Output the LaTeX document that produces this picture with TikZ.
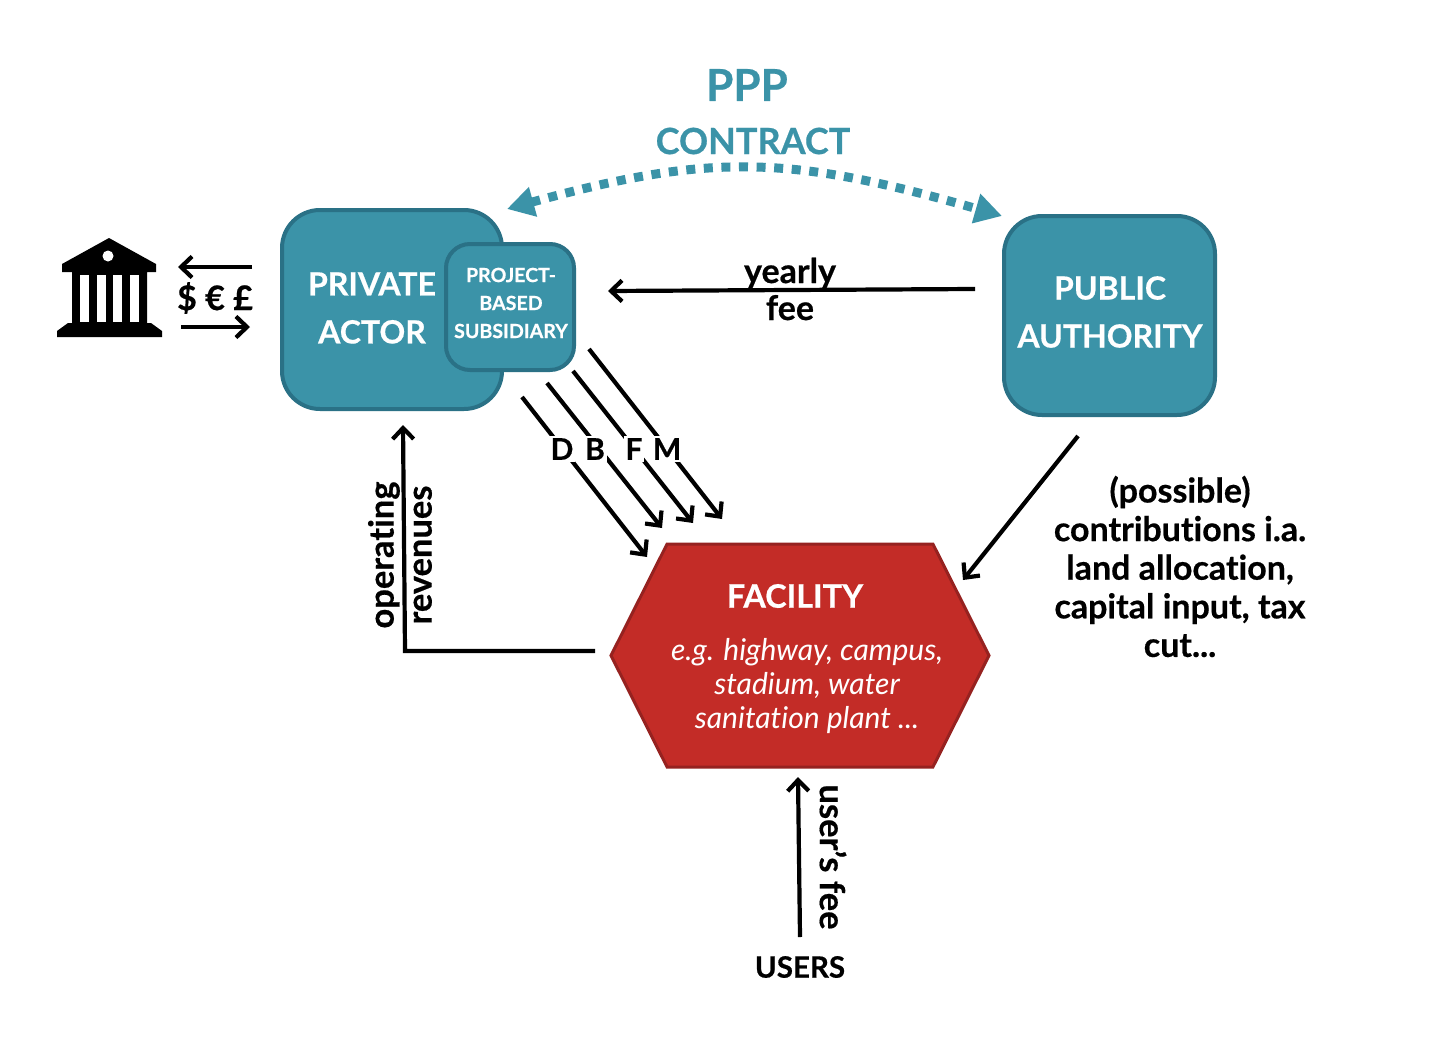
\documentclass[tikz,border=0pt]{standalone}
\usepackage{fontspec}
\setmainfont{Lato}[Ligatures=NoCommon,BoldFeatures={FakeBold=0.5}]
\usepackage{tikz}
\usetikzlibrary{arrows.meta,shapes.symbols}
\definecolor{tealfill}{HTML}{3B93A8}
\definecolor{tealedge}{HTML}{2A7186}
\definecolor{redfill}{HTML}{C32C27}
\definecolor{rededge}{HTML}{962220}

\begin{document}
\begin{tikzpicture}[x=1pt,y=-1pt]
			\tikzset{boxnode/.style={draw=tealedge,fill=tealfill,line width=4pt,rounded corners=38pt,inner sep=0pt,align=center,text=white,font=\bfseries}}
			\tikzset{flowarrow/.style={line width=4.2pt,-{Straight Barb[length=11pt,width=21pt,line width=4.2pt]}}}
			\tikzset{labelnode/.style={inner sep=0pt,align=center,font=\bfseries}}
			\tikzset{tealtext/.style={labelnode,text=tealfill}}
			\tikzset{stagenode/.style={labelnode,fill=white,inner xsep=2pt,inner ysep=2pt,font=\bfseries\fontsize{30}{30}\selectfont}}
			\useasboundingbox (0,0) rectangle (1432,1052);
			\fill[white] (0,0) rectangle (1432,1052);
			\node[tealtext,font=\bfseries\fontsize{44}{44}\selectfont] (ppp) at (747,85) {PPP};
			\node[tealtext,font=\bfseries\fontsize{36}{36}\selectfont] (contract) at (753,141) {CONTRACT};
			\node[boxnode,minimum width=220pt,minimum height=199pt] (private) at (392,309.5) {};
			\node[labelnode,text=white,font=\bfseries\fontsize{32}{48}\selectfont] (privatetext) at (372,308) {PRIVATE\\ACTOR};
			\node[boxnode,rounded corners=24pt,minimum width=128pt,minimum height=126pt] (subsidiary) at (510,307) {};
			\node[labelnode,text=white,font=\bfseries\fontsize{19.6}{28}\selectfont] (subsidiarytext) at (511,303) {PROJECT-\\BASED\\SUBSIDIARY};
			\node[boxnode,minimum width=211pt,minimum height=199pt] (public) at (1109.5,315.5) {};
			\node[labelnode,text=white,font=\bfseries\fontsize{32}{48}\selectfont] (publictext) at (1110,312) {PUBLIC\\AUTHORITY};
			\node[signal,signal to=east and west,signal from=nowhere,signal pointer angle=126.6,draw=rededge,fill=redfill,line width=3pt,minimum width=378pt,minimum height=223pt,inner sep=0pt] (facility) at (800,655.5) {};
			\node[labelnode,text=white,font=\bfseries\fontsize{32.4}{32.4}\selectfont] (facilitytext) at (795,596) {FACILITY};
			\node[inner sep=0pt,align=center,text=white,font=\itshape\fontsize{30}{34}\selectfont] (examples) at (807,686) {e.g. highway, campus,\\stadium, water\\sanitation plant ...};
			\coordinate (contractleft) at (507,209);
			\coordinate (contractright) at (1002,216);
			\draw[tealfill,line width=9pt,dash pattern=on 9pt off 8.6pt,{Triangle[length=27pt,width=29pt]}-{Triangle[length=27pt,width=29pt]}] (contractleft) .. controls (710,153) and (790,155) .. (contractright);
			\coordinate (feestart) at (975,289);
			\coordinate (feeend) at (608,291);
			\draw[flowarrow] (feestart) -- (feeend);
			\node[labelnode,font=\bfseries\fontsize{34}{37}\selectfont] (feelabel) at (790,289) {yearly\\fee};
			\fill (109,238) -- (156,264) -- (156,272) -- (147,272) -- (147,323) -- (151,323) -- (162,331) -- (162,337) -- (57,337) -- (57,331) -- (68,323) -- (72,323) -- (72,272) -- (62,272) -- (62,264) -- cycle;
			\fill[white] (108,256) circle (5.5);
			\foreach \gapx in {80,97,113,130}
				\fill[white] (\gapx,275) rectangle (\gapx+8.5,322);
			\coordinate (bankin) at (178,267);
			\coordinate (bankinstart) at (252,267);
			\coordinate (bankout) at (250,327);
			\coordinate (bankoutstart) at (181,327);
			\draw[flowarrow] (bankinstart) -- (bankin);
			\draw[flowarrow] (bankoutstart) -- (bankout);
			\node[labelnode,font=\bfseries\fontsize{34}{34}\selectfont] (money) at (215,298) {\$ € £};
			\coordinate (dstart) at (522,397);
			\coordinate (dend) at (647,557);
			\coordinate (bstart) at (547,383);
			\coordinate (bend) at (662,528);
			\coordinate (fstart) at (573,371);
			\coordinate (fend) at (693,523);
			\coordinate (mstart) at (589,349);
			\coordinate (mend) at (722,519);
			\foreach \stagename in {d,b,f,m}
				\draw[flowarrow] (\stagename start) -- (\stagename end);
			\node[stagenode] (dlabel) at (562,449) {D};
			\node[stagenode] (blabel) at (595,449) {B};
			\node[stagenode] (flabel) at (634,449) {F};
			\node[stagenode] (mlabel) at (667,449) {M};
			\coordinate (revenuestart) at (595,651);
			\coordinate (revenuecorner) at (405,651);
			\coordinate (revenueend) at (403,425);
			\draw[flowarrow,line join=miter] (revenuestart) -- (revenuecorner) -- (revenueend);
			\node[labelnode,rotate=90,font=\bfseries\fontsize{34.5}{38}\selectfont] (revenuelabel) at (400,555) {operating\\revenues};
			\coordinate (usersend) at (798,777);
			\node[labelnode,font=\bfseries\fontsize{29.5}{29.5}\selectfont] (users) at (800,967) {USERS};
			\coordinate (usersstart) at (800,937);
			\draw[flowarrow] (usersstart) -- (usersend);
			\node[labelnode,rotate=-90,font=\bfseries\fontsize{34.5}{34.5}\selectfont] (userfee) at (833,857) {user's fee};
			\coordinate (publicstart) at (1078,436);
			\coordinate (publicend) at (963,580);
			\draw[flowarrow] (publicstart) -- (publicend);
			\node[labelnode,font=\bfseries\fontsize{34}{38.6}\selectfont] (contributions) at (1180,566.5) {(possible)\\contributions i.a.\\land allocation,\\capital input, tax\\cut...};
		\end{tikzpicture}
\end{document}
